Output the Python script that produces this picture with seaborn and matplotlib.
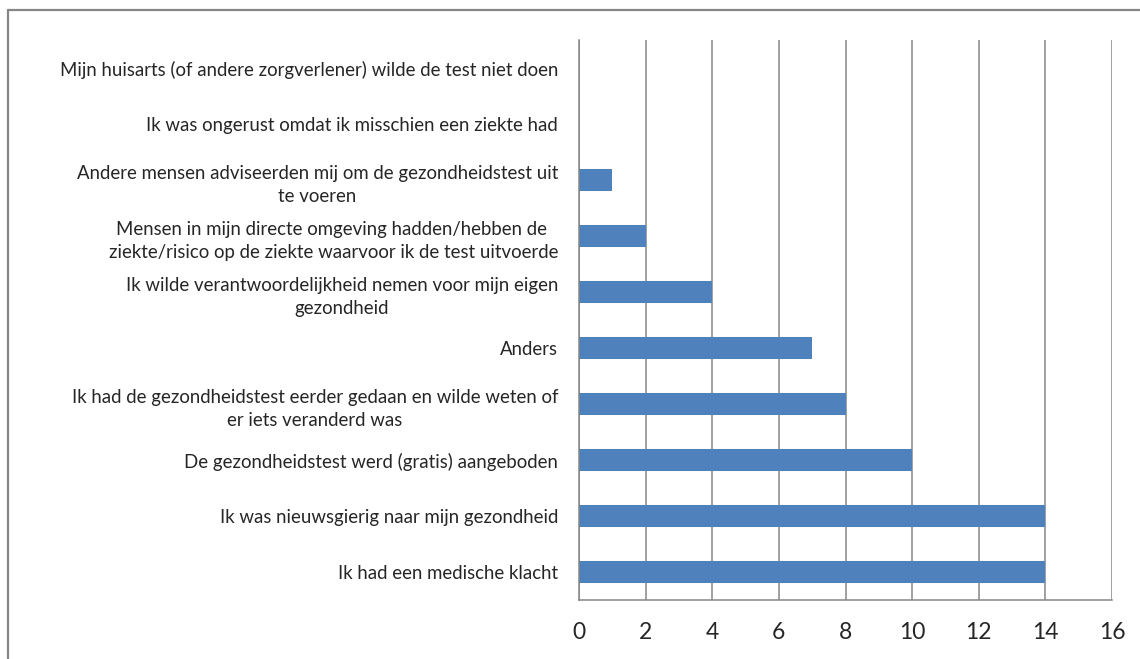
import matplotlib
matplotlib.use("Agg")
import matplotlib.pyplot as plt
from matplotlib.lines import Line2D
import seaborn as sns
import numpy as np

# reasons, top to bottom as in the chart
reasons = [
    "Mijn huisarts (of andere zorgverlener) wilde de test niet doen",
    "Ik was ongerust omdat ik misschien een ziekte had",
    "Andere mensen adviseerden mij om de gezondheidstest uit\nte voeren",
    "Mensen in mijn directe omgeving hadden/hebben de \nziekte/risico op de ziekte waarvoor ik de test uitvoerde",
    "Ik wilde verantwoordelijkheid nemen voor mijn eigen\ngezondheid",
    "Anders",
    "Ik had de gezondheidstest eerder gedaan en wilde weten of\ner iets veranderd was",
    "De gezondheidstest werd (gratis) aangeboden",
    "Ik was nieuwsgierig naar mijn gezondheid",
    "Ik had een medische klacht",
]
counts = [0, 0, 1, 2, 4, 7, 8, 10, 14, 14]
xticks = [0, 2, 4, 6, 8, 10, 12, 14, 16]

grey = "#868686"
sns.set_style("white")
plt.rcParams["font.family"] = ["Lato", "DejaVu Sans"]

fig = plt.figure(figsize=(11.4, 6.59), dpi=100)
ax = fig.add_axes([579 / 1140, 1 - 600 / 659, (1112 - 579) / 1140, (600 - 40) / 659])

ax.set_axisbelow(True)
ax.grid(axis="x", color=grey, lw=1.1)
sns.barplot(x=counts, y=reasons, orient="h", color="#4F81BD", width=0.4,
            saturation=1, linewidth=0, ax=ax)

ax.set_xlim(0, 16)
ax.set_xticks(xticks)
ax.set_ylim(9.5, -0.5)
ax.set_xlabel("")
ax.set_ylabel("")

# category ticks sit between categories, labels in the middle
ax.set_yticks(np.arange(-0.5, 10, 1), minor=True)
ax.tick_params(axis="y", which="major", length=0, pad=15, labelsize=13.4)
ax.tick_params(axis="y", which="minor", length=4, width=1.1, color=grey, direction="out")
ax.tick_params(axis="x", length=5, width=1.1, color=grey, direction="out",
               labelsize=16.5, pad=11)
for lab in ax.get_yticklabels():
    lab.set_multialignment("center")
    lab.set_linespacing(1.45)

for s in ["top", "right"]:
    ax.spines[s].set_visible(False)
for s in ["left", "bottom"]:
    ax.spines[s].set_color(grey)
    ax.spines[s].set_linewidth(1.1)

# outer chart frame (only top and left visible)
fig.add_artist(Line2D([8 / 1140, 1], [1 - 10 / 659, 1 - 10 / 659], color=grey, lw=1.6))
fig.add_artist(Line2D([8 / 1140, 8 / 1140], [0, 1 - 10 / 659], color=grey, lw=1.6))

fig.savefig("out.png", dpi=100)
